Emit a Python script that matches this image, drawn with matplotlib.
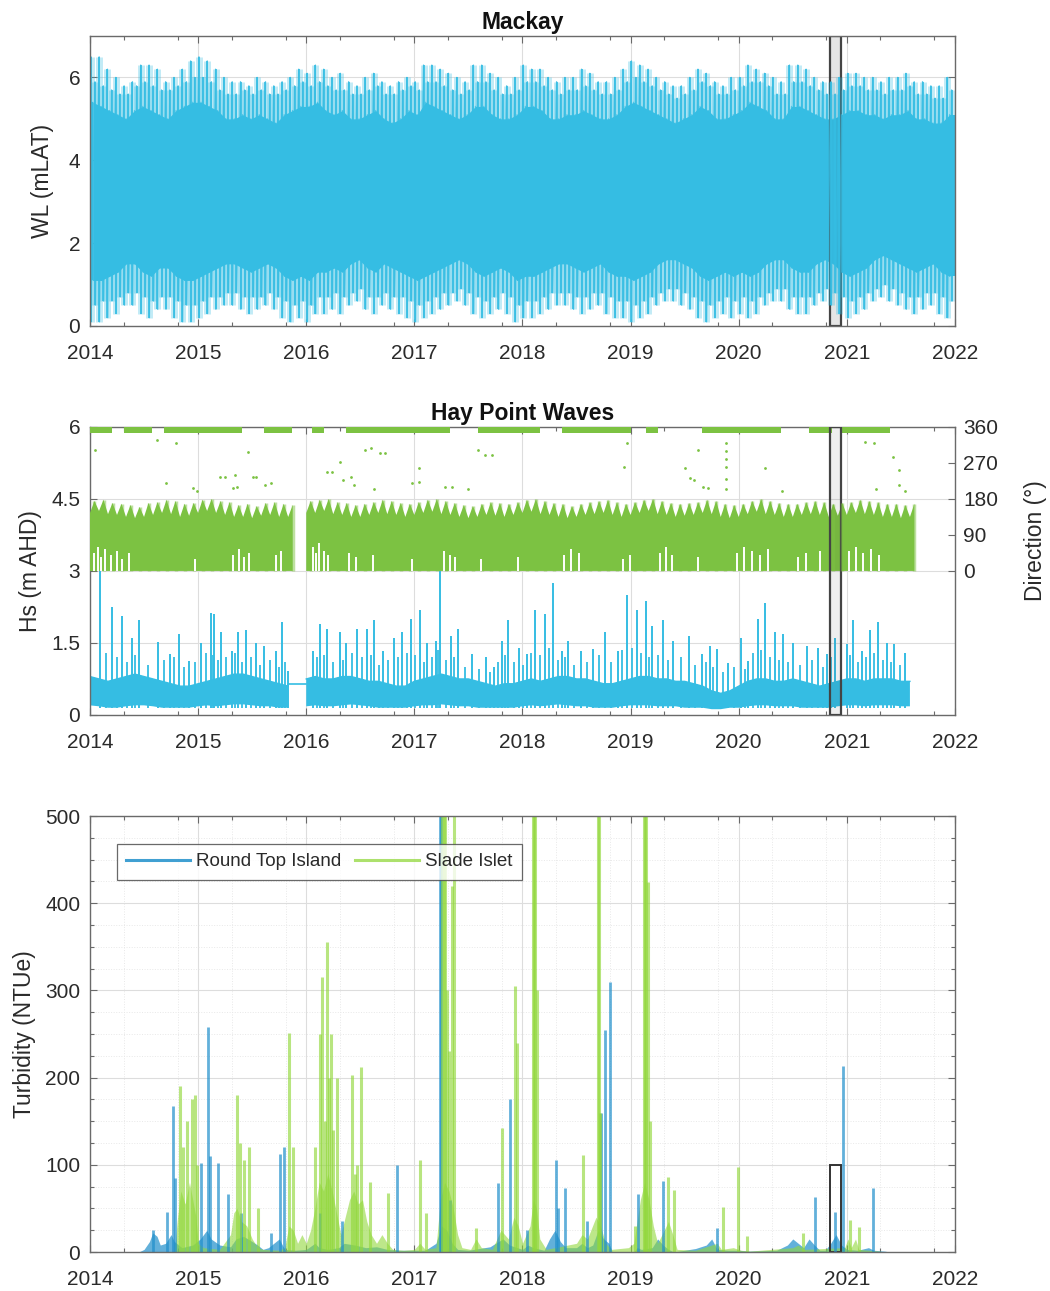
import numpy as np
import matplotlib
matplotlib.use("Agg")
import matplotlib.pyplot as plt
from matplotlib.lines import Line2D

plt.rcParams['font.family'] = ['Liberation Sans', 'DejaVu Sans']

YEARS = list(range(2014, 2023))
EVENT = (2020.84, 2020.95)

# --- Mackay water level, 13 lunar cycles per year ---
# main (perigean) spring tide range
wl_spring_hi = [
    6.5, 6.5, 6.2, 6.0, 5.8, 5.9, 6.3, 6.3, 6.2, 5.9, 6.0, 6.2, 6.4,
    6.5, 6.4, 6.2, 6.0, 5.9, 5.9, 5.8, 6.0, 5.9, 5.8, 5.9, 6.0, 6.2,
    6.1, 6.3, 6.2, 6.0, 6.1, 5.9, 5.8, 6.0, 6.1, 5.9, 5.8, 5.9, 6.0,
    5.9, 6.3, 6.3, 6.2, 6.1, 6.0, 5.9, 6.3, 6.3, 6.1, 6.0, 5.8, 6.0,
    6.3, 6.2, 6.2, 6.0, 5.9, 6.0, 6.0, 6.2, 6.1, 5.9, 5.9, 6.0, 6.2,
    6.4, 6.3, 6.2, 6.0, 5.9, 5.8, 5.8, 6.0, 6.2, 6.1, 5.9, 5.8, 6.0,
    6.0, 6.3, 6.2, 6.1, 6.0, 5.9, 6.3, 6.3, 6.2, 6.0, 5.9, 5.9, 6.0,
    6.1, 6.1, 6.0, 6.0, 5.9, 6.0, 6.0, 6.1, 5.9, 5.9, 5.8, 5.8, 6.0,
]
wl_spring_lo = [
    0.1, 0.1, 0.2, 0.3, 0.5, 0.5, 0.3, 0.2, 0.4, 0.4, 0.2, 0.1, 0.1,
    0.2, 0.3, 0.4, 0.5, 0.5, 0.4, 0.3, 0.4, 0.5, 0.4, 0.2, 0.1, 0.2,
    0.1, 0.3, 0.3, 0.4, 0.3, 0.5, 0.6, 0.4, 0.3, 0.5, 0.4, 0.3, 0.2,
    0.1, 0.2, 0.3, 0.4, 0.5, 0.6, 0.5, 0.3, 0.2, 0.3, 0.4, 0.3, 0.1,
    0.2, 0.2, 0.3, 0.4, 0.5, 0.5, 0.4, 0.3, 0.4, 0.5, 0.3, 0.2, 0.2,
    0.1, 0.2, 0.3, 0.5, 0.6, 0.6, 0.5, 0.4, 0.2, 0.1, 0.2, 0.3, 0.2,
    0.3, 0.2, 0.3, 0.5, 0.6, 0.6, 0.4, 0.3, 0.3, 0.5, 0.6, 0.5, 0.3,
    0.2, 0.3, 0.4, 0.6, 0.7, 0.6, 0.5, 0.4, 0.3, 0.4, 0.5, 0.3, 0.2,
]
# second (apogean) spring tide range
wl_spring2_hi = [
    5.9, 5.8, 5.7, 5.6, 5.6, 5.8, 5.9, 5.8, 5.7, 5.7, 5.8, 5.9, 6.0,
    6.0, 5.9, 5.7, 5.6, 5.6, 5.7, 5.6, 5.7, 5.6, 5.6, 5.7, 5.8, 5.9,
    5.8, 5.9, 5.8, 5.7, 5.7, 5.6, 5.6, 5.7, 5.8, 5.6, 5.6, 5.7, 5.8,
    5.7, 5.9, 5.9, 5.8, 5.7, 5.6, 5.7, 5.9, 5.9, 5.7, 5.6, 5.6, 5.7,
    5.9, 5.9, 5.8, 5.7, 5.6, 5.7, 5.7, 5.8, 5.7, 5.6, 5.6, 5.7, 5.9,
    6.0, 5.9, 5.8, 5.7, 5.6, 5.5, 5.6, 5.7, 5.9, 5.8, 5.6, 5.6, 5.7,
    5.8, 5.9, 5.9, 5.8, 5.6, 5.6, 5.9, 5.9, 5.8, 5.7, 5.6, 5.6, 5.7,
    5.8, 5.8, 5.7, 5.7, 5.6, 5.7, 5.7, 5.8, 5.6, 5.6, 5.5, 5.5, 5.7,
]
wl_spring2_lo = [
    0.5, 0.6, 0.6, 0.7, 0.8, 0.8, 0.7, 0.6, 0.7, 0.7, 0.6, 0.5, 0.5,
    0.6, 0.7, 0.7, 0.8, 0.8, 0.7, 0.7, 0.7, 0.8, 0.7, 0.6, 0.5, 0.6,
    0.5, 0.7, 0.7, 0.8, 0.7, 0.8, 0.9, 0.7, 0.7, 0.8, 0.7, 0.7, 0.6,
    0.5, 0.6, 0.7, 0.8, 0.8, 0.9, 0.8, 0.7, 0.6, 0.7, 0.8, 0.7, 0.5,
    0.6, 0.6, 0.7, 0.8, 0.8, 0.8, 0.7, 0.7, 0.8, 0.8, 0.7, 0.6, 0.6,
    0.5, 0.6, 0.7, 0.8, 0.9, 0.9, 0.8, 0.7, 0.6, 0.5, 0.6, 0.7, 0.6,
    0.7, 0.6, 0.7, 0.8, 0.9, 0.9, 0.7, 0.7, 0.7, 0.8, 0.9, 0.8, 0.7,
    0.6, 0.7, 0.8, 0.9, 1.0, 0.9, 0.8, 0.7, 0.7, 0.8, 0.8, 0.7, 0.6,
]
# neap tide range
wl_neap_hi = [
    5.4, 5.3, 5.2, 5.1, 5.0, 5.2, 5.3, 5.2, 5.1, 5.0, 5.2, 5.3, 5.4,
    5.4, 5.3, 5.2, 5.0, 5.0, 5.1, 5.0, 5.1, 5.0, 4.9, 5.1, 5.2, 5.3,
    5.3, 5.4, 5.2, 5.1, 5.2, 5.0, 5.0, 5.1, 5.2, 5.0, 4.9, 5.0, 5.2,
    5.1, 5.4, 5.3, 5.2, 5.1, 5.0, 5.1, 5.3, 5.3, 5.1, 5.0, 5.0, 5.1,
    5.3, 5.3, 5.2, 5.0, 5.0, 5.1, 5.1, 5.2, 5.1, 5.0, 5.0, 5.1, 5.3,
    5.4, 5.3, 5.2, 5.1, 5.0, 4.9, 5.0, 5.1, 5.3, 5.2, 5.0, 5.0, 5.1,
    5.2, 5.4, 5.3, 5.2, 5.0, 5.0, 5.3, 5.3, 5.2, 5.1, 5.0, 5.0, 5.1,
    5.2, 5.2, 5.1, 5.1, 5.0, 5.1, 5.1, 5.2, 5.0, 5.0, 4.9, 4.9, 5.1,
]
wl_neap_lo = [
    1.1, 1.1, 1.2, 1.3, 1.5, 1.5, 1.3, 1.2, 1.4, 1.4, 1.2, 1.1, 1.1,
    1.2, 1.3, 1.4, 1.5, 1.5, 1.4, 1.3, 1.4, 1.5, 1.4, 1.2, 1.1, 1.2,
    1.1, 1.3, 1.3, 1.4, 1.3, 1.5, 1.6, 1.4, 1.3, 1.5, 1.4, 1.3, 1.2,
    1.1, 1.2, 1.3, 1.4, 1.5, 1.6, 1.5, 1.3, 1.2, 1.3, 1.4, 1.3, 1.1,
    1.2, 1.2, 1.3, 1.4, 1.5, 1.5, 1.4, 1.3, 1.4, 1.5, 1.3, 1.2, 1.2,
    1.1, 1.2, 1.3, 1.5, 1.6, 1.6, 1.5, 1.4, 1.2, 1.1, 1.2, 1.3, 1.2,
    1.3, 1.2, 1.3, 1.5, 1.6, 1.6, 1.4, 1.3, 1.3, 1.5, 1.6, 1.5, 1.3,
    1.2, 1.3, 1.4, 1.6, 1.7, 1.6, 1.5, 1.4, 1.3, 1.4, 1.5, 1.3, 1.2,
]

# --- Hay Point waves: monthly Hs band (Jan 2014 - Aug 2021), NaN = gap ---
nan = np.nan
hs_band_lo = [
    0.20, 0.18, 0.15, 0.15, 0.18, 0.20, 0.20, 0.18, 0.15, 0.15, 0.15, 0.15,
    0.18, 0.20, 0.18, 0.20, 0.22, 0.22, 0.20, 0.18, 0.18, 0.15, 0.15, nan,
    0.18, 0.20, 0.18, 0.18, 0.20, 0.22, 0.20, 0.18, 0.15, 0.15, 0.15, 0.15,
    0.18, 0.20, 0.20, 0.22, 0.20, 0.18, 0.18, 0.15, 0.15, 0.15, 0.15, 0.15,
    0.18, 0.20, 0.18, 0.20, 0.22, 0.20, 0.18, 0.18, 0.15, 0.15, 0.15, 0.18,
    0.20, 0.20, 0.20, 0.18, 0.18, 0.18, 0.15, 0.15, 0.15, 0.12, 0.12, 0.15,
    0.15, 0.18, 0.20, 0.20, 0.18, 0.18, 0.18, 0.15, 0.15, 0.15, 0.15, 0.18,
    0.20, 0.20, 0.18, 0.20, 0.20, 0.20, 0.18, 0.18,
]
hs_band_hi = [
    0.80, 0.75, 0.70, 0.75, 0.80, 0.85, 0.80, 0.75, 0.70, 0.65, 0.60, 0.60,
    0.65, 0.70, 0.75, 0.80, 0.85, 0.85, 0.80, 0.75, 0.70, 0.65, 0.60, nan,
    0.75, 0.80, 0.75, 0.75, 0.80, 0.80, 0.75, 0.70, 0.70, 0.65, 0.60, 0.60,
    0.70, 0.75, 0.80, 0.85, 0.80, 0.75, 0.75, 0.70, 0.65, 0.60, 0.65, 0.65,
    0.70, 0.75, 0.70, 0.75, 0.80, 0.80, 0.75, 0.75, 0.70, 0.65, 0.65, 0.70,
    0.75, 0.80, 0.80, 0.75, 0.75, 0.70, 0.70, 0.65, 0.60, 0.50, 0.45, 0.50,
    0.60, 0.70, 0.75, 0.75, 0.70, 0.70, 0.75, 0.70, 0.65, 0.60, 0.65, 0.70,
    0.75, 0.75, 0.70, 0.75, 0.75, 0.75, 0.70, 0.70,
]
hs_gap_level = 0.65

# storm peaks (decimal year, Hs m)
hs_peak_t = [
    2014.09, 2014.20, 2014.30, 2014.39, 2014.45, 2014.63, 2014.74, 2014.82, 2014.92,
    2015.03, 2015.12, 2015.15, 2015.21, 2015.31, 2015.37, 2015.44, 2015.54, 2015.61,
    2015.72, 2015.78, 2015.83,
    2016.06, 2016.13, 2016.19, 2016.31, 2016.37, 2016.47, 2016.56, 2016.63, 2016.71,
    2016.81, 2016.89, 2016.97,
    2017.05, 2017.12, 2017.20, 2017.24, 2017.34, 2017.40, 2017.53, 2017.66, 2017.74,
    2017.81, 2017.87, 2017.97,
    2018.04, 2018.12, 2018.21, 2018.28, 2018.37, 2018.42, 2018.54, 2018.65, 2018.76,
    2018.88, 2018.97,
    2019.06, 2019.14, 2019.20, 2019.30, 2019.39, 2019.54, 2019.66, 2019.73, 2019.80,
    2019.90,
    2020.02, 2020.09, 2020.18, 2020.24, 2020.34, 2020.41, 2020.50, 2020.63, 2020.73,
    2020.82, 2020.89,
    2021.00, 2021.06, 2021.14, 2021.21, 2021.29, 2021.37, 2021.44, 2021.54,
]
hs_peak_v = [
    3.00, 2.24, 2.07, 1.61, 1.97, 1.51, 1.27, 1.69, 1.13,
    1.50, 2.13, 2.10, 1.72, 1.34, 1.72, 1.76, 1.50, 1.44,
    1.34, 1.93, 0.92,
    1.34, 1.90, 1.80, 1.72, 1.50, 1.80, 1.80, 1.97, 1.34,
    1.61, 1.72, 2.00,
    2.18, 1.50, 1.55, 3.00, 1.65, 1.80, 1.27, 1.20, 1.00,
    1.55, 1.97, 1.40,
    1.27, 2.18, 2.10, 2.74, 1.34, 1.55, 1.34, 1.38, 1.72,
    1.34, 2.49,
    2.18, 2.38, 1.86, 1.97, 1.55, 1.65, 1.27, 1.44, 1.38,
    1.09,
    1.61, 1.13, 2.00, 2.34, 1.72, 1.69, 1.50, 1.44, 1.40,
    1.27, 1.61,
    1.48, 1.97, 1.34, 1.76, 1.93, 1.50, 1.48, 1.30,
]
# smaller wave events between consecutive storm peaks (NaN = no data)
hs_minor_v = [
    1.30, 1.20, 1.10, 1.25, 1.05, 1.15, 1.20, 1.00,
    1.10, 1.30, 1.25, 1.15, 1.20, 1.30, 1.10, 1.20, 1.05,
    1.15, 1.00, 1.10, nan,
    1.20, 1.25, 1.10, 1.15, 1.30, 1.20, 1.25, 1.05,
    1.15, 1.20, 1.30, 1.25,
    1.10, 1.20, 1.35, 1.15, 1.20, 1.00, 0.95, 0.90,
    1.10, 1.25, 1.10, 1.05,
    1.30, 1.25, 1.40, 1.15, 1.20, 1.05, 1.10, 1.25,
    1.10, 1.35, 1.40,
    1.30, 1.20, 1.25, 1.15, 1.20, 1.05, 1.10, 1.00,
    0.90, 1.00,
    0.95, 1.30, 1.35, 1.20, 1.15, 1.10, 1.05, 1.15,
    1.00, 1.20, 1.15,
    1.25, 1.10, 1.20, 1.30, 1.15, 1.10, 1.05,
]

# wave direction: month-start top of main band (deg), NaN = gap
dir_band_top = [
    145, 150, 142, 140, 135, 132, 135, 140, 145, 142, 135, 138,
    145, 150, 145, 140, 135, 135, 132, 138, 140, 135, 135, nan,
    145, 145, 150, 142, 140, 135, 135, 140, 145, 142, 140, 135,
    140, 145, 148, 142, 140, 135, 132, 135, 140, 138, 135, 140,
    145, 148, 142, 140, 135, 132, 135, 140, 142, 145, 140, 135,
    140, 145, 150, 142, 140, 135, 138, 140, 145, 142, 135, 132,
    135, 142, 148, 142, 140, 135, 135, 140, 142, 140, 135, 138,
    140, 145, 142, 140, 135, 135, 132, 135,
]
# mid-month upper spread of the band (deg)
dir_band_spike = [
    175, 178, 170, 168, 165, 160, 170, 172, 178, 175, 168, 170,
    178, 180, 175, 172, 165, 168, 162, 170, 172, 168, 165, nan,
    175, 178, 180, 172, 170, 165, 168, 172, 178, 175, 170, 168,
    172, 178, 180, 175, 170, 165, 162, 168, 172, 170, 168, 172,
    178, 180, 175, 170, 168, 162, 168, 172, 175, 178, 172, 168,
    172, 178, 180, 175, 170, 168, 170, 172, 178, 175, 168, 165,
    168, 175, 180, 175, 170, 168, 168, 172, 175, 172, 168, 170,
    172, 178, 175, 172, 168, 168, 165, 168,
]
# short dropouts at low directions (decimal year, top of dropout deg)
dir_hole_t = [2014.04, 2014.07, 2014.10, 2014.14, 2014.19, 2014.25, 2014.30, 2014.36,
              2014.97, 2015.32, 2015.38, 2015.42, 2015.47, 2015.72, 2015.77,
              2016.06, 2016.09, 2016.12, 2016.16, 2016.20, 2016.40, 2016.46, 2016.62,
              2016.98, 2017.27, 2017.33, 2017.38, 2017.62, 2017.96,
              2018.38, 2018.45, 2018.52, 2018.93, 2018.99,
              2019.27, 2019.33, 2019.38, 2019.62, 2019.98,
              2020.05, 2020.12, 2020.20, 2020.27, 2020.55, 2020.62, 2020.75,
              2021.02, 2021.08, 2021.15, 2021.22, 2021.30]
dir_hole_v = [45, 60, 35, 55, 40, 50, 30, 45,
              30, 40, 55, 35, 45, 40, 50,
              60, 45, 70, 50, 40, 45, 35, 40,
              30, 50, 40, 35, 30, 35,
              40, 55, 45, 30, 40,
              45, 60, 40, 35, 45,
              60, 50, 40, 55, 35, 45, 50,
              50, 60, 45, 55, 40]
# periods with northerly (~350 deg) records
dir_north_start = [2014.00, 2014.31, 2014.68, 2015.61, 2016.05, 2016.37, 2017.59,
                   2018.37, 2019.14, 2019.66, 2020.65, 2020.94]
dir_north_end = [2014.20, 2014.57, 2015.41, 2015.87, 2016.16, 2017.33, 2018.16,
                 2019.00, 2019.25, 2020.39, 2020.86, 2021.40]
# isolated direction records
dir_pts_t = [2014.05, 2014.62, 2014.70, 2014.80, 2014.95, 2014.99, 2015.20, 2015.25,
             2015.32, 2015.34, 2015.36, 2015.46, 2015.51, 2015.54, 2015.62, 2015.67,
             2016.19, 2016.24, 2016.31, 2016.34, 2016.41, 2016.44, 2016.54, 2016.60,
             2016.63, 2016.68, 2016.73, 2016.98, 2017.04, 2017.04, 2017.28, 2017.35,
             2017.50, 2017.59, 2017.65, 2017.72, 2018.94, 2018.97, 2019.50, 2019.55,
             2019.59, 2019.62, 2019.67, 2019.72, 2019.88, 2019.88, 2019.88, 2019.88,
             2019.88, 2019.88, 2020.24, 2020.40, 2021.17, 2021.25, 2021.27, 2021.43,
             2021.48, 2021.48, 2021.54]
dir_pts_v = [303, 328, 221, 320, 208, 199, 236, 236,
             208, 241, 211, 298, 236, 236, 216, 221,
             248, 248, 273, 228, 236, 216, 303, 308,
             204, 295, 295, 221, 258, 223, 211, 211,
             204, 303, 290, 290, 261, 320, 258, 233,
             228, 303, 211, 208, 320, 300, 280, 260,
             230, 205, 258, 199, 323, 320, 204, 286,
             253, 216, 199]

# --- Turbidity: low-level background (t, NTUe) and event peaks ---
rt_base_t = [2014.45, 2014.50, 2014.55, 2014.58, 2014.62, 2014.65, 2014.70, 2014.75,
             2014.78, 2014.85, 2014.95, 2015.02, 2015.08, 2015.12, 2015.20, 2015.30,
             2015.35, 2015.42, 2015.50, 2015.55, 2015.60, 2015.65, 2015.70, 2015.75,
             2015.80, 2015.90, 2016.00, 2016.08, 2016.12, 2016.20, 2016.30, 2016.35,
             2016.45, 2016.55, 2016.65, 2016.75, 2016.85, 2016.95, 2017.10, 2017.20,
             2017.25, 2017.30, 2017.35, 2017.40, 2017.50, 2017.60, 2017.70, 2017.75,
             2017.82, 2017.88, 2017.95, 2018.00, 2018.05, 2018.10, 2018.20, 2018.25,
             2018.30, 2018.35, 2018.40, 2018.50, 2018.55, 2018.60, 2018.65, 2018.70,
             2018.75, 2018.80, 2018.83, 2019.03, 2019.06, 2019.10, 2019.20, 2019.25,
             2019.30, 2019.35, 2019.40, 2019.50, 2019.60, 2019.70, 2019.75, 2019.80,
             2019.90, 2020.00, 2020.10, 2020.35, 2020.45, 2020.50, 2020.55, 2020.60,
             2020.65, 2020.70, 2020.75, 2020.80, 2020.85, 2020.90, 2020.95, 2021.00,
             2021.10, 2021.20, 2021.25, 2021.35, 2021.40]
rt_base_v = [0, 3, 12, 22, 18, 8, 10, 20,
             12, 5, 8, 15, 25, 15, 8, 6,
             15, 18, 12, 8, 3, 5, 10, 15,
             3, 2, 3, 10, 5, 3, 5, 10,
             8, 5, 6, 3, 2, 2, 2, 10,
             30, 25, 10, 3, 2, 4, 6, 10,
             15, 8, 5, 3, 8, 5, 2, 15,
             25, 12, 5, 5, 10, 5, 8, 25,
             15, 10, 0, 0, 5, 3, 5, 15,
             8, 3, 0, 2, 4, 8, 15, 3,
             2, 2, 1, 2, 8, 15, 10, 5,
             15, 8, 2, 2, 10, 20, 8, 3,
             2, 5, 2, 1, 0]
rt_peak_t = [2014.58, 2014.71, 2014.77, 2014.79, 2015.03, 2015.09, 2015.11, 2015.18,
             2015.28, 2015.40, 2015.67, 2015.76, 2015.79, 2016.13, 2016.33, 2016.84,
             2017.24, 2017.25, 2017.33, 2017.77, 2017.88, 2018.04, 2018.31, 2018.33,
             2018.39, 2018.60, 2018.73, 2018.76, 2018.81, 2019.07, 2019.30, 2019.80,
             2020.71, 2020.89, 2020.96, 2021.24]
rt_peak_v = [25, 46, 167, 85, 102, 258, 110, 102,
             66, 45, 22, 112, 121, 45, 35, 100,
             520, 520, 60, 79, 176, 25, 106, 50,
             73, 36, 160, 255, 310, 66, 82, 28,
             63, 46, 213, 73]

si_base_t = [2014.78, 2014.81, 2014.84, 2014.88, 2014.92, 2014.95, 2014.98, 2015.00,
             2015.05, 2015.20, 2015.30, 2015.33, 2015.36, 2015.40, 2015.45, 2015.50,
             2015.55, 2015.60, 2015.75, 2015.80, 2015.84, 2015.88, 2015.92, 2015.96,
             2016.00, 2016.04, 2016.08, 2016.12, 2016.16, 2016.20, 2016.24, 2016.28,
             2016.32, 2016.36, 2016.40, 2016.44, 2016.48, 2016.52, 2016.56, 2016.60,
             2016.65, 2016.70, 2016.75, 2016.80, 2016.90, 2017.00, 2017.05, 2017.10,
             2017.20, 2017.24, 2017.28, 2017.32, 2017.36, 2017.40, 2017.44, 2017.52,
             2017.57, 2017.62, 2017.72, 2017.80, 2017.87, 2017.92, 2017.96, 2018.00,
             2018.07, 2018.10, 2018.13, 2018.16, 2018.22, 2018.50, 2018.55, 2018.60,
             2018.68, 2018.72, 2018.77, 2018.82, 2018.98, 2019.03, 2019.09, 2019.13,
             2019.17, 2019.21, 2019.25, 2019.31, 2019.35, 2019.39, 2019.43, 2019.60,
             2019.80, 2019.84, 2019.95, 2020.02, 2020.10, 2020.50, 2020.55, 2020.60,
             2020.98, 2021.01, 2021.04, 2021.08, 2021.11, 2021.30, 2021.35]
si_base_v = [0, 40, 70, 55, 80, 60, 40, 10,
             5, 3, 20, 45, 50, 35, 30, 15,
             5, 3, 2, 5, 30, 25, 10, 20,
             10, 25, 50, 80, 70, 90, 70, 45,
             20, 40, 60, 70, 55, 60, 35, 20,
             10, 20, 10, 3, 2, 3, 10, 3,
             5, 60, 80, 70, 50, 20, 5, 3,
             15, 5, 3, 25, 15, 40, 30, 10,
             30, 60, 50, 15, 3, 10, 20, 15,
             40, 30, 10, 3, 5, 10, 60, 80,
             60, 30, 10, 25, 35, 20, 3, 2,
             10, 3, 5, 2, 1, 5, 8, 3,
             5, 15, 5, 15, 3, 1, 0]
si_peak_t = [2014.83, 2014.86, 2014.90, 2014.94, 2014.97, 2014.99, 2015.36, 2015.39,
             2015.42, 2015.47, 2015.55, 2015.84, 2015.88, 2016.08, 2016.13, 2016.15,
             2016.17, 2016.19, 2016.21, 2016.23, 2016.25, 2016.28, 2016.42, 2016.45,
             2016.47, 2016.51, 2016.59, 2016.76, 2017.05, 2017.11, 2017.26, 2017.27,
             2017.28, 2017.30, 2017.32, 2017.35, 2017.37, 2017.57, 2017.81, 2017.93,
             2017.95, 2018.10, 2018.11, 2018.12, 2018.13, 2018.56, 2018.70, 2018.71,
             2018.72, 2019.04, 2019.12, 2019.13, 2019.14, 2019.16, 2019.18, 2019.35,
             2019.40, 2019.85, 2019.99, 2020.08, 2020.59, 2021.03, 2021.11]
si_peak_v = [190, 120, 150, 175, 180, 100, 180, 125,
             105, 120, 50, 251, 120, 120, 250, 315,
             150, 356, 200, 250, 140, 200, 203, 90,
             100, 212, 80, 68, 105, 45, 520, 520,
             520, 300, 230, 420, 500, 27, 142, 305,
             240, 520, 520, 520, 300, 111, 520, 520,
             160, 30, 520, 520, 520, 424, 150, 86,
             71, 52, 98, 18, 22, 37, 29]

TIDE_BLUE = '#35BDE3'
DIR_GREEN = '#7CC242'
RT_BLUE = '#1F8FCB'
SI_GREEN = '#92D83C'
FRAME = '#6a6a6a'
TEXT = '#2a2a2a'
GRID = '#dddddd'
MINOR_X = [y + f for y in range(2014, 2022) for f in (0.31, 0.81)]


def style_axes(ax, right=True):
    ax.set_xlim(2014, 2022)
    ax.set_xticks(YEARS)
    ax.set_xticklabels([str(y) for y in YEARS])
    ax.set_xticks(MINOR_X, minor=True)
    ax.tick_params(which='both', direction='in', top=True, right=right,
                   colors=FRAME, labelcolor=TEXT, labelsize=15, width=0.8)
    ax.tick_params(which='major', length=5)
    ax.tick_params(which='minor', length=3)
    ax.tick_params(axis='x', pad=13)
    ax.tick_params(axis='y', pad=7)
    for s in ax.spines.values():
        s.set_color(FRAME)
        s.set_linewidth(1.0)
    ax.grid(True, which='major', color=GRID, lw=0.8)
    ax.set_axisbelow(True)


def event_box(ax, shade):
    ax.axvspan(*EVENT, facecolor='#303030', alpha=shade, lw=0)
    ax.axvspan(*EVENT, facecolor='none', edgecolor='#444444', lw=1.6)


fig = plt.figure(figsize=(10.5, 12.91), dpi=100)
ax1 = fig.add_axes([0.0857, 0.7475, 0.8238, 0.2246])
ax2 = fig.add_axes([0.0857, 0.4462, 0.8238, 0.2231])
ax3 = fig.add_axes([0.0857, 0.0302, 0.8238, 0.3377])

# --- panel 1: Mackay tide ---
n = len(wl_spring_hi)
step = 8.0 / n
t_spring = 2014 + (np.arange(n) + 0.1) * step
t_neap = t_spring + step * 0.25
t_spring2 = t_spring + step * 0.5
eps = step * 0.04
ax1.fill_between(t_neap, wl_neap_lo, wl_neap_hi, color=TIDE_BLUE, lw=0)
ax1.fill_between([2014, t_neap[0]], wl_neap_lo[0], wl_neap_hi[0], color=TIDE_BLUE, lw=0)
ax1.fill_between([t_neap[-1], 2022], wl_neap_lo[-1], wl_neap_hi[-1], color=TIDE_BLUE, lw=0)
zz_t = np.ravel(np.column_stack([t_spring, t_spring + eps, t_neap, t_neap + eps,
                                 t_spring2, t_spring2 + eps]))
zz_v = np.ravel(np.column_stack([wl_spring_hi, wl_spring_lo, wl_neap_hi, wl_neap_lo,
                                 wl_spring2_hi, wl_spring2_lo]))
ax1.plot(zz_t, zz_v, color=TIDE_BLUE, lw=1.0, alpha=0.7)
for ts, lo, hi in [(t_spring, wl_spring_lo, wl_spring_hi),
                   (t_spring2, wl_spring2_lo, wl_spring2_hi)]:
    ax1.vlines(ts, lo, hi, color=TIDE_BLUE, lw=5.0, alpha=0.3)
    ax1.vlines(ts, lo, hi, color=TIDE_BLUE, lw=1.2)
ax1.set_ylim(0, 7)
ax1.set_yticks([0, 2, 4, 6])
style_axes(ax1)
event_box(ax1, 0.12)
ax1.set_title('Mackay', fontsize=16.5, fontweight='bold', color='#111111', pad=5)
ax1.set_ylabel('WL (mLAT)', fontsize=16.5, color=TEXT)
ax1.yaxis.set_label_coords(-0.042, 0.5)

# --- panel 2: Hay Point waves ---
months = 2014 + np.arange(len(hs_band_hi)) / 12.0
ax2.fill_between(months, hs_band_lo, hs_band_hi, color=TIDE_BLUE, lw=0)
ax2.plot(months, hs_band_hi, color=TIDE_BLUE, lw=1.0)
ax2.vlines(hs_peak_t, 0.15, hs_peak_v, color=TIDE_BLUE, lw=1.4)
hs_minor_t = (np.array(hs_peak_t[:-1]) + np.array(hs_peak_t[1:])) / 2
ax2.vlines(hs_minor_t, 0.15, hs_minor_v, color=TIDE_BLUE, lw=1.3)
gap_i = int(np.where(np.isnan(hs_band_hi))[0][0])
ax2.plot([months[gap_i - 1], months[gap_i + 1]], [hs_gap_level, hs_gap_level],
         color=TIDE_BLUE, lw=1.2)
ax2.set_ylim(0, 6)
ax2.set_yticks([0, 1.5, 3, 4.5, 6])
ax2.set_yticklabels(['0', '1.5', '3', '4.5', '6'])
style_axes(ax2, right=False)
ax2.set_title('Hay Point Waves', fontsize=16.5, fontweight='bold', color='#111111', pad=5)
ax2.set_ylabel('Hs (m AHD)', fontsize=16.5, color=TEXT)
ax2.yaxis.set_label_coords(-0.055, 0.5)

ax2r = ax2.twinx()
ax2r.set_ylim(-360, 360)
dir_t = np.ravel(np.column_stack([months, months + 1 / 24]))
dir_v = np.ravel(np.column_stack([dir_band_top, dir_band_spike]))
ax2r.fill_between(dir_t, 0, dir_v, color=DIR_GREEN, lw=0)
ax2r.vlines(months + 1 / 24, 0, dir_band_spike, color=DIR_GREEN, lw=2.5, alpha=0.5)
ax2r.vlines(dir_hole_t, 0, dir_hole_v, color='white', lw=1.4)
for a, b in zip(dir_north_start, dir_north_end):
    ax2r.fill_between([a, b], 346, 360, color=DIR_GREEN, lw=0)
ax2r.scatter(dir_pts_t, dir_pts_v, s=4, color=DIR_GREEN, lw=0)
ax2r.set_yticks([0, 90, 180, 270, 360])
ax2r.tick_params(direction='in', length=5, width=0.8, colors=FRAME,
                 labelcolor=TEXT, labelsize=15, pad=6)
for s in ax2r.spines.values():
    s.set_visible(False)
ax2r.set_ylabel('Direction (°)', fontsize=16.5, color=TEXT)
ax2r.yaxis.set_label_coords(1.080, 0.604)
event_box(ax2r, 0.08)

# --- panel 3: turbidity ---
ax3.fill_between(rt_base_t, 0, rt_base_v, color=RT_BLUE, alpha=0.7, lw=0)
ax3.vlines(rt_peak_t, 0, rt_peak_v, color=RT_BLUE, alpha=0.7, lw=2.0)
ax3.fill_between(si_base_t, 0, si_base_v, color=SI_GREEN, alpha=0.6, lw=0)
ax3.vlines(si_peak_t, 0, si_peak_v, color=SI_GREEN, alpha=0.65, lw=2.2)
ax3.set_ylim(0, 500)
ax3.set_yticks(range(0, 501, 100))
ax3.set_yticks(range(0, 501, 25), minor=True)
style_axes(ax3)
ax3.grid(True, which='minor', color='#e8e8e8', lw=0.7, ls=':')
ax3.add_patch(plt.Rectangle((EVENT[0], 0), EVENT[1] - EVENT[0], 100,
                            facecolor='none', edgecolor='#333333', lw=1.4))
ax3.set_ylabel('Turbidity (NTUe)', fontsize=16.5, color=TEXT)
ax3.yaxis.set_label_coords(-0.062, 0.5)
handles = [Line2D([], [], color=RT_BLUE, alpha=0.85, lw=2.2),
           Line2D([], [], color=SI_GREEN, alpha=0.75, lw=2.2)]
leg = ax3.legend(handles, ['Round Top Island', 'Slade Islet'], ncol=2,
                 loc='upper left', bbox_to_anchor=(0.031, 0.936), borderaxespad=0,
                 fontsize=13.5, frameon=True, fancybox=False, handlelength=3.4,
                 handletextpad=0.35, columnspacing=0.7, borderpad=0.5)
leg.get_frame().set_edgecolor('#444444')
leg.get_frame().set_linewidth(0.9)
for txt in leg.get_texts():
    txt.set_color(TEXT)

fig.savefig('out.png', dpi=100)
